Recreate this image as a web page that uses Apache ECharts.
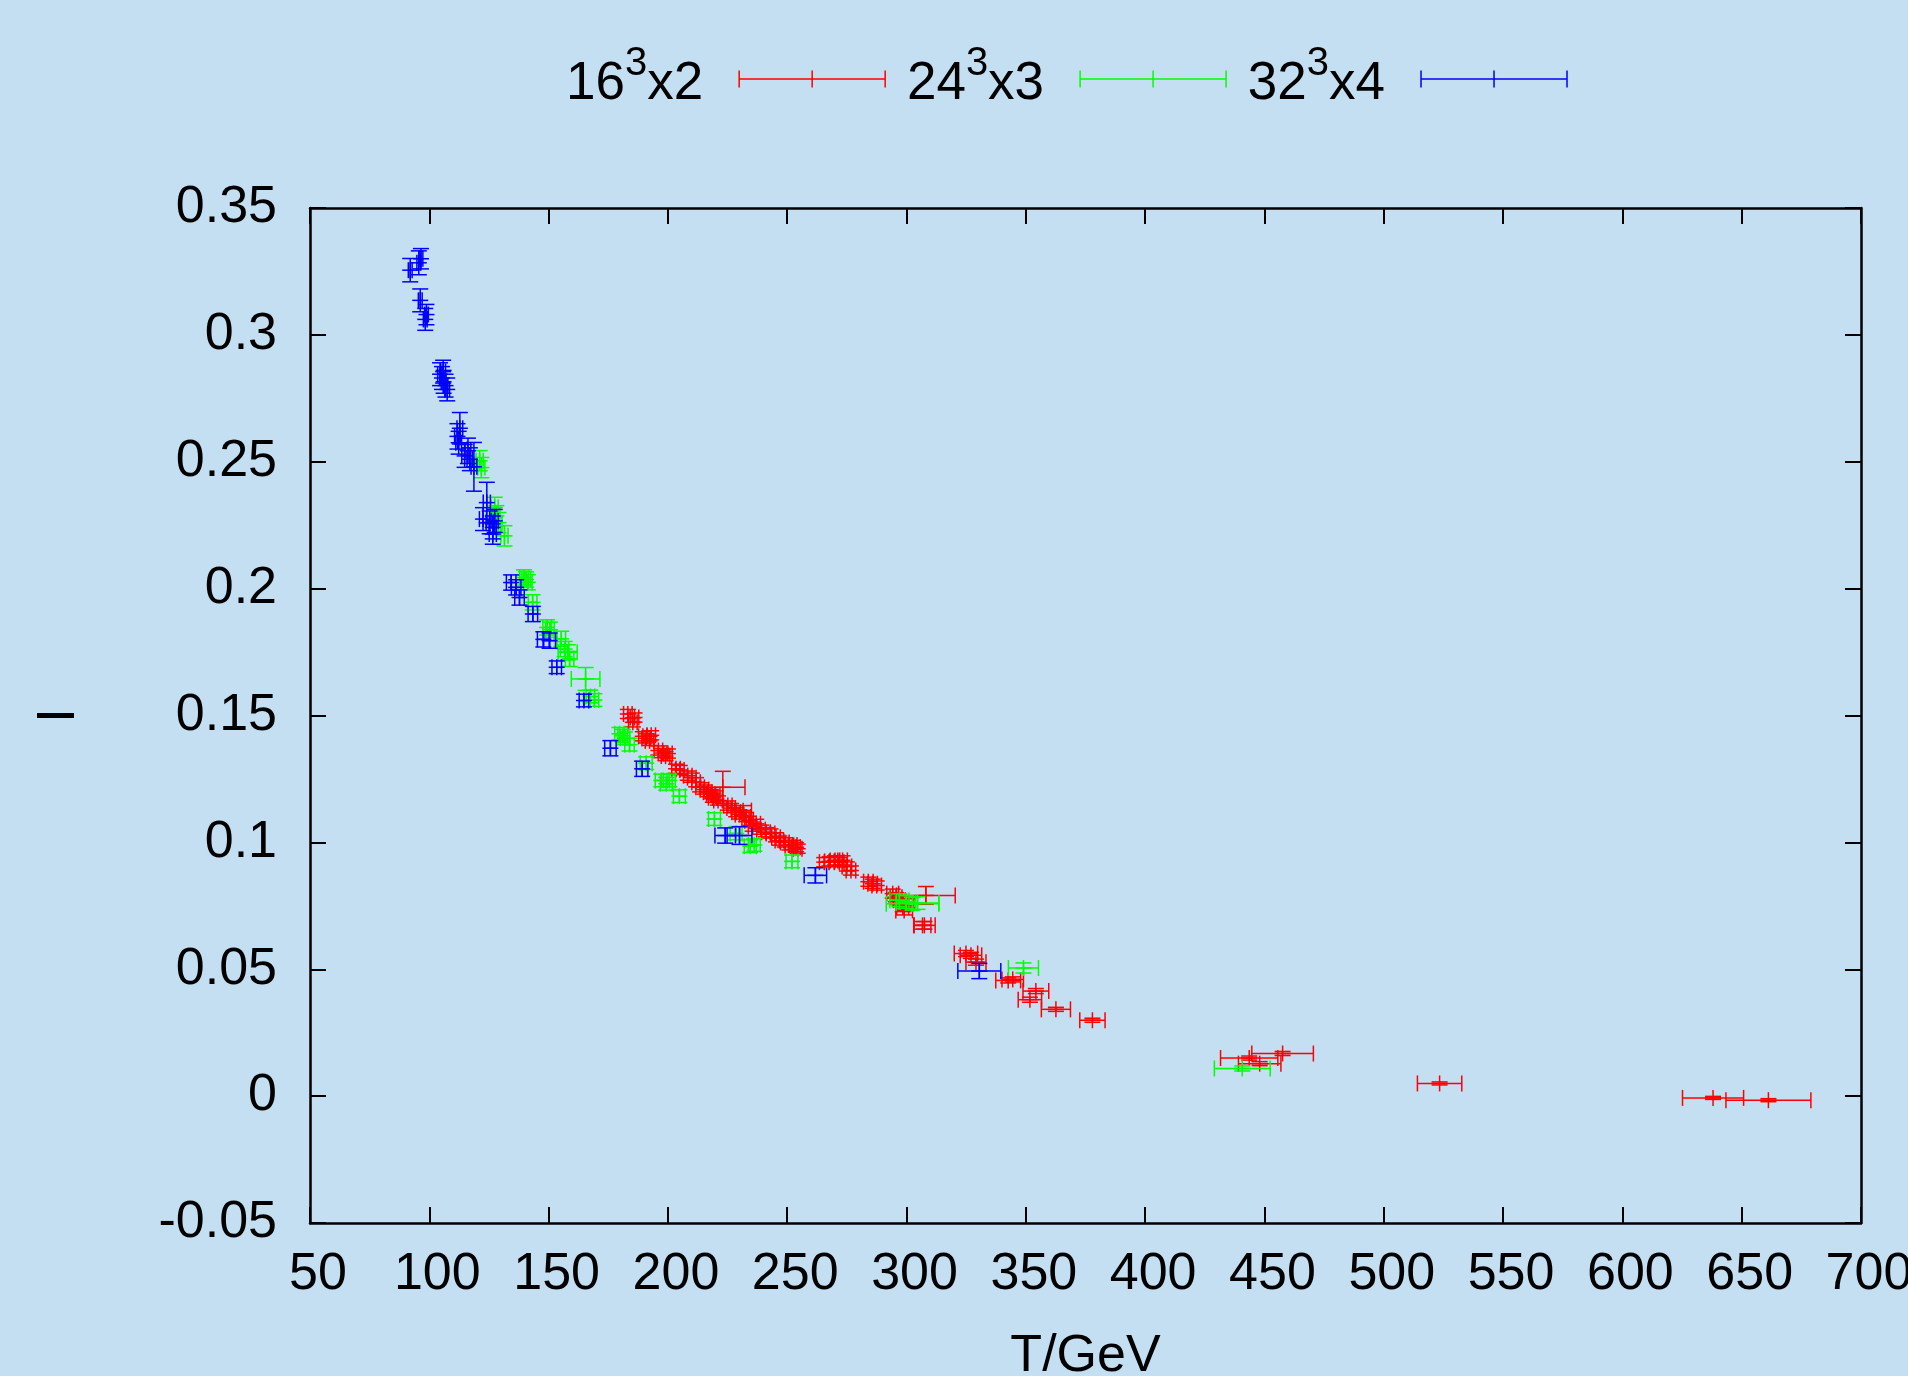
<!DOCTYPE html>
<html>
<head>
<meta charset="utf-8">
<title>I vs T/GeV</title>
<script src="https://cdn.jsdelivr.net/npm/echarts@6/dist/echarts.min.js"></script>
<style>
  html, body { margin: 0; padding: 0; background: #c4dff2; }
  #chart { width: 1908px; height: 1376px; }
</style>
</head>
<body>
<div id="chart"></div>
<script>
// Lattice sizes (legend entries)
const latticeNames = ['16³x2', '24³x3', '32³x4'];
const latticeColors = ['#ff0000', '#00ff00', '#0000ff'];

// Rows: [T (GeV), I, dT, dI]
const lat16 = [
  [183.2, 0.1506, 1.8, 0.0018], [185.3, 0.1473, 1.8, 0.0018], [186.0, 0.1492, 1.8, 0.0018],
  [189.5, 0.1418, 1.8, 0.0018], [190.9, 0.1410, 1.8, 0.0018], [192.3, 0.1400, 1.8, 0.0018],
  [193.0, 0.1422, 1.8, 0.0018], [196.0, 0.1362, 1.8, 0.0018], [197.8, 0.1352, 1.8, 0.0018],
  [199.0, 0.1340, 1.8, 0.0018], [200.0, 0.1350, 1.8, 0.0018], [203.4, 0.1290, 1.8, 0.0018],
  [205.0, 0.1285, 1.8, 0.0018], [208.3, 0.1263, 1.8, 0.0018], [210.0, 0.1255, 1.8, 0.0018],
  [211.8, 0.1237, 1.8, 0.0018], [213.5, 0.1217, 1.8, 0.0018], [215.3, 0.1208, 1.8, 0.0018],
  [216.7, 0.1198, 1.8, 0.0018], [218.0, 0.1190, 1.8, 0.0018], [218.8, 0.1176, 1.8, 0.0018],
  [220.0, 0.1185, 1.8, 0.0018], [221.0, 0.1165, 1.8, 0.0018], [223.0, 0.1217, 9.3, 0.0063],
  [225.1, 0.1145, 1.8, 0.0018], [226.5, 0.1135, 1.8, 0.0018], [228.6, 0.1119, 1.8, 0.0018],
  [230.0, 0.1110, 1.8, 0.0018], [231.5, 0.1125, 3.5, 0.0020], [232.8, 0.1100, 1.8, 0.0018],
  [234.0, 0.1085, 1.8, 0.0018], [235.5, 0.1062, 1.8, 0.0018], [237.0, 0.1073, 1.8, 0.0018],
  [239.0, 0.1050, 1.8, 0.0018], [241.1, 0.1040, 1.8, 0.0018], [243.0, 0.1035, 1.8, 0.0018],
  [245.3, 0.1020, 1.8, 0.0018], [246.7, 0.1007, 1.8, 0.0018], [249.0, 0.1000, 1.8, 0.0018],
  [250.9, 0.0988, 1.8, 0.0018], [252.3, 0.0990, 1.8, 0.0018], [253.7, 0.0981, 1.8, 0.0018],
  [254.4, 0.0975, 1.8, 0.0018], [265.5, 0.0922, 2.0, 0.0018], [267.7, 0.0925, 2.0, 0.0018],
  [270.0, 0.0929, 2.0, 0.0018], [271.8, 0.0922, 2.0, 0.0018], [273.2, 0.0929, 2.0, 0.0018],
  [275.0, 0.0905, 2.0, 0.0018], [276.7, 0.0889, 2.0, 0.0018], [284.0, 0.0845, 2.0, 0.0018],
  [285.8, 0.0837, 2.0, 0.0018], [287.5, 0.0830, 2.0, 0.0018], [294.2, 0.0798, 2.5, 0.0018],
  [295.6, 0.0784, 2.5, 0.0018], [297.0, 0.0772, 2.5, 0.0018], [298.4, 0.0745, 2.5, 0.0018],
  [299.0, 0.0732, 3.5, 0.0018], [300.5, 0.0760, 2.5, 0.0018], [308.1, 0.0791, 12.3, 0.0035],
  [306.7, 0.0673, 3.5, 0.0015], [307.5, 0.0673, 4.5, 0.0015], [324.9, 0.0562, 4.9, 0.0012],
  [327.0, 0.0555, 4.5, 0.0012], [329.1, 0.0528, 4.2, 0.0012], [342.6, 0.0456, 5.2, 0.0010],
  [344.5, 0.0460, 4.5, 0.0010], [351.7, 0.0380, 4.9, 0.0010], [354.2, 0.0414, 5.4, 0.0010],
  [362.6, 0.0342, 6.1, 0.0008], [377.9, 0.0299, 5.3, 0.0008], [443.6, 0.0150, 12.0, 0.0008],
  [448.0, 0.0128, 8.9, 0.0008], [457.6, 0.0168, 12.9, 0.0008], [523.4, 0.0050, 9.3, 0.0006],
  [638.0, -0.0007, 12.8, 0.0006], [661.2, -0.0016, 17.8, 0.0006]
];

const lat24 = [
  [121.1, 0.2504, 1.5, 0.0040], [121.8, 0.2477, 1.5, 0.0040], [127.4, 0.2320, 1.5, 0.0040],
  [128.1, 0.2287, 1.5, 0.0040], [129.0, 0.2260, 1.5, 0.0040], [131.5, 0.2208, 1.5, 0.0040],
  [139.7, 0.2044, 1.8, 0.0030], [140.6, 0.2036, 1.8, 0.0030], [141.3, 0.2025, 1.8, 0.0030],
  [143.3, 0.1946, 1.8, 0.0030], [149.4, 0.1847, 1.8, 0.0030], [150.6, 0.1838, 1.8, 0.0030],
  [155.3, 0.1802, 1.8, 0.0030], [156.7, 0.1762, 1.8, 0.0030], [158.0, 0.1749, 4.0, 0.0030],
  [158.8, 0.1723, 1.8, 0.0030], [165.5, 0.1644, 6.0, 0.0045], [167.5, 0.1575, 1.8, 0.0025],
  [169.2, 0.1561, 1.8, 0.0025], [179.7, 0.1428, 2.0, 0.0025], [181.1, 0.1420, 2.0, 0.0025],
  [182.0, 0.1410, 2.0, 0.0025], [183.9, 0.1385, 2.0, 0.0025], [190.9, 0.1312, 2.5, 0.0025],
  [197.2, 0.1244, 2.5, 0.0025], [199.3, 0.1231, 2.5, 0.0025], [200.6, 0.1244, 2.5, 0.0025],
  [204.8, 0.1182, 2.5, 0.0025], [219.5, 0.1092, 2.5, 0.0025], [228.6, 0.1035, 2.5, 0.0025],
  [234.5, 0.0985, 2.5, 0.0025], [236.2, 0.0990, 2.5, 0.0025], [252.0, 0.0925, 2.5, 0.0025],
  [297.0, 0.0772, 4.0, 0.0025], [299.8, 0.0765, 4.0, 0.0025], [302.5, 0.0758, 11.0, 0.0025],
  [304.6, 0.0761, 9.0, 0.0025], [349.0, 0.0505, 6.3, 0.0020], [440.7, 0.0109, 11.7, 0.0010]
];

const lat32 = [
  [92.0, 0.3255, 0.8, 0.0046], [95.6, 0.3284, 0.8, 0.0047], [96.5, 0.3300, 0.8, 0.0040],
  [96.2, 0.3136, 0.8, 0.0045], [98.3, 0.3061, 0.8, 0.0043], [98.8, 0.3080, 0.8, 0.0040],
  [104.5, 0.2845, 1.0, 0.0045], [105.3, 0.2830, 1.0, 0.0045], [105.8, 0.2855, 1.0, 0.0045],
  [106.0, 0.2815, 1.0, 0.0045], [106.8, 0.2800, 1.0, 0.0045], [107.5, 0.2785, 1.0, 0.0045],
  [112.8, 0.2632, 1.2, 0.0062], [111.8, 0.2600, 1.2, 0.0050], [112.3, 0.2575, 1.2, 0.0045],
  [116.2, 0.2543, 1.2, 0.0050], [114.8, 0.2523, 1.2, 0.0045], [117.0, 0.2510, 1.2, 0.0045],
  [118.7, 0.2480, 1.2, 0.0096], [124.1, 0.2339, 1.5, 0.0080], [122.5, 0.2274, 1.5, 0.0045],
  [125.3, 0.2261, 1.5, 0.0045], [126.6, 0.2241, 1.5, 0.0045], [127.4, 0.2267, 1.5, 0.0045],
  [126.6, 0.2215, 1.5, 0.0040], [134.3, 0.2024, 2.0, 0.0030], [136.4, 0.2005, 2.0, 0.0030],
  [137.8, 0.1965, 2.0, 0.0030], [143.4, 0.1900, 2.0, 0.0030], [147.8, 0.1800, 2.5, 0.0030],
  [150.4, 0.1795, 2.5, 0.0030], [153.4, 0.1690, 2.0, 0.0025], [164.8, 0.1559, 2.0, 0.0025],
  [175.9, 0.1371, 2.4, 0.0030], [189.2, 0.1290, 2.4, 0.0030], [224.0, 0.1027, 4.3, 0.0030],
  [230.0, 0.1027, 5.2, 0.0035], [261.8, 0.0870, 4.7, 0.0030], [330.5, 0.0493, 9.0, 0.0030]
];

const FONT = "'Liberation Sans', Arial, Helvetica, sans-serif";
const CAP = 8;          // half length of error-bar caps and of the '+' point mark, px
const BAR_WIDTH = 1.5;  // error-bar stroke width, px

// Draws one point as x/y error bars with caps plus a '+' mark.
function errorBars(color) {
  return function (params, api) {
    const x = api.value(0), y = api.value(1), dx = api.value(2), dy = api.value(3);
    const c = api.coord([x, y]);
    const l = api.coord([x - dx, y])[0];
    const r = api.coord([x + dx, y])[0];
    const t = api.coord([x, y + dy])[1];
    const b = api.coord([x, y - dy])[1];
    const cx = c[0], cy = c[1], k = CAP;
    const segs = [
      [l, cy, r, cy], [l, cy - k, l, cy + k], [r, cy - k, r, cy + k],
      [cx, t, cx, b], [cx - k, t, cx + k, t], [cx - k, b, cx + k, b],
      [cx - k, cy, cx + k, cy], [cx, cy - k, cx, cy + k]
    ];
    return {
      type: 'group',
      children: segs.map(s => ({
        type: 'line',
        shape: { x1: s[0], y1: s[1], x2: s[2], y2: s[3] },
        style: { stroke: color, lineWidth: BAR_WIDTH }
      }))
    };
  };
}

const axisLineStyle = { color: '#000', width: 2.5 };
const tickStyle = { show: true, inside: true, length: 16, lineStyle: { color: '#000', width: 2 } };
const xRange = { min: 50, max: 700, interval: 50 };
const yRange = { min: -0.05, max: 0.35, interval: 0.05 };

const legendIcon = 'path://M0,0V17M0,8.5H146M146,0V17M73,0V17';

const chart = echarts.init(document.getElementById('chart'), null, { renderer: 'canvas' });
chart.setOption({
  backgroundColor: '#c4dff2',
  animation: false,
  grid: { left: 310, top: 208, width: 1551, height: 1015, containLabel: false, outerBoundsMode: 'none' },
  legend: {
    left: 566,
    top: 34,
    padding: 0,
    align: 'right',
    itemWidth: 148,
    itemHeight: 17,
    itemGap: 21,
    selectedMode: false,
    data: latticeNames.map((n, i) => ({
      name: n,
      icon: legendIcon,
      itemStyle: { color: 'rgba(0,0,0,0)', borderColor: latticeColors[i], borderWidth: 1.5 }
    })),
    formatter: n => n.replace('³', '{s|3}'),
    textStyle: {
      fontFamily: FONT, fontSize: 53, color: '#000', lineHeight: 80,
      padding: [10, 30, 0, 0],
      rich: { s: { fontFamily: FONT, fontSize: 40, lineHeight: 18, verticalAlign: 'top', color: '#000' } }
    }
  },
  xAxis: [
    {
      type: 'value', position: 'bottom', ...xRange,
      name: 'T/GeV', nameLocation: 'middle', nameGap: 108,
      nameTextStyle: { fontFamily: FONT, fontSize: 52, color: '#000' },
      axisLine: { show: true, onZero: false, lineStyle: axisLineStyle },
      axisTick: tickStyle,
      splitLine: { show: false },
      axisLabel: { fontFamily: FONT, fontSize: 52, color: '#000', margin: 26, padding: [0, 0, 0, 16] }
    },
    {
      type: 'value', position: 'top', ...xRange,
      axisLine: { show: true, onZero: false, lineStyle: axisLineStyle },
      axisTick: tickStyle, axisLabel: { show: false }, splitLine: { show: false }
    }
  ],
  yAxis: [
    {
      type: 'value', position: 'left', ...yRange,
      name: 'I', nameLocation: 'middle', nameRotate: 90, nameGap: 224,
      nameTextStyle: { fontFamily: FONT, fontSize: 54, color: '#000' },
      axisLine: { show: true, onZero: false, lineStyle: axisLineStyle },
      axisTick: tickStyle,
      splitLine: { show: false },
      axisLabel: {
        fontFamily: FONT, fontSize: 52, color: '#000', margin: 33,
        formatter: v => String(parseFloat(v.toFixed(2)))
      }
    },
    {
      type: 'value', position: 'right', ...yRange,
      axisLine: { show: true, onZero: false, lineStyle: axisLineStyle },
      axisTick: tickStyle, axisLabel: { show: false }, splitLine: { show: false }
    }
  ],
  series: [lat16, lat24, lat32].map((rows, i) => ({
    type: 'custom',
    name: latticeNames[i],
    xAxisIndex: 0,
    yAxisIndex: 0,
    silent: true,
    itemStyle: { color: latticeColors[i] },
    renderItem: errorBars(latticeColors[i]),
    encode: { x: 0, y: 1 },
    data: rows
  }))
});
</script>
</body>
</html>
